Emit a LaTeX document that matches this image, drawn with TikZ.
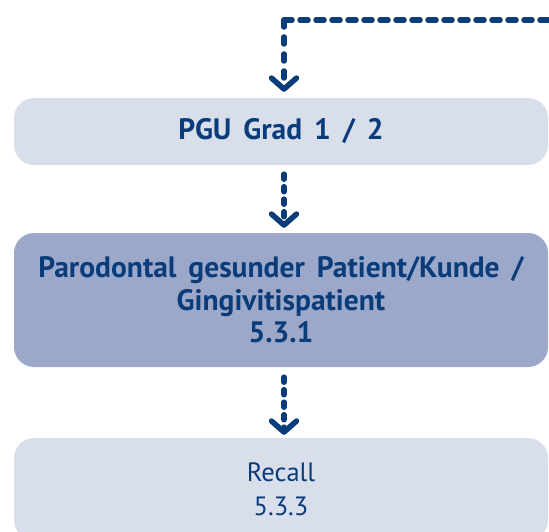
\documentclass[tikz,border=0pt]{standalone}
\usepackage{fontspec}
\setmainfont{PT Sans}
\newfontfamily\wideface[WordSpace=1.6]{PT Sans}
\usetikzlibrary{arrows.meta}
\definecolor{navy}{HTML}{0A3C7A}
\definecolor{lightbox}{HTML}{D8DEEA}
\definecolor{midbox}{HTML}{9BA8CA}
\begin{document}
\begin{tikzpicture}[x=1pt,y=-1pt,
  box/.style={rounded corners=20pt, minimum width=534pt, inner sep=0pt, align=center, text=navy, font=\wideface\fontsize{29.5}{32.5}\selectfont\bfseries},
  dashline/.style={draw=navy, line width=5.5pt, line cap=round, dash pattern=on 8pt off 8pt},
  flow/.style={dashline, dash pattern=on 5pt off 7.5pt, -{Straight Barb[round,length=11pt,width=25pt]}}
]
\useasboundingbox (0,0) rectangle (549,532);
\node[box, fill=lightbox, minimum height=67pt] (pgu) at (281,131.5) {PGU Grad 1 / 2};
\node[box, fill=midbox, minimum height=134pt] (paro) at (281,300) {Parodontal gesunder Patient/Kunde /\\Gingivitispatient\\5.3.1};
\node[box, fill=lightbox, minimum height=102pt, font=\fontsize{26.5}{34}\selectfont\mdseries] (recall) at (281,489) {Recall\\5.3.3};
\coordinate (corner) at (284,20);
\coordinate (start) at (560,20);
\draw[dashline] (corner) -- (start);
\draw[flow, dash pattern=on 7pt off 10pt, shorten >=6pt] (corner) -- (pgu.north -| corner);
\draw[flow, shorten <=9pt, shorten >=5pt] ([xshift=3pt]pgu.south) -- ([xshift=3pt]paro.north);
\draw[flow, shorten <=10pt, shorten >=3pt] ([xshift=3pt]paro.south) -- ([xshift=3pt]recall.north);
\end{tikzpicture}
\end{document}
